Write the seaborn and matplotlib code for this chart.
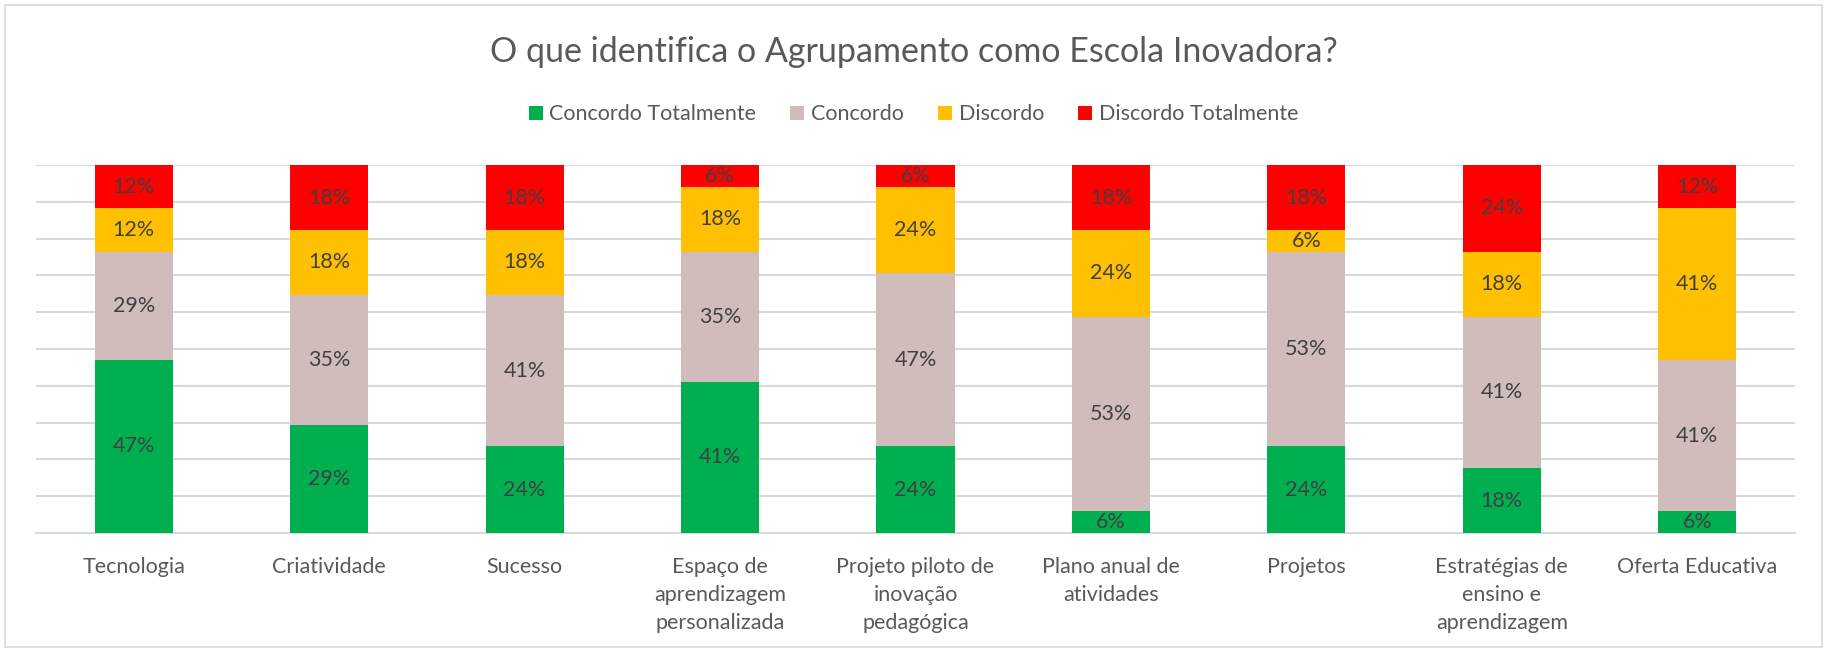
#!/usr/bin/env python
# -*- coding: utf-8 -*-
"""
Stacked 100% bar chart: O que identifica o Agrupamento como Escola Inovadora?
"""

import matplotlib
matplotlib.use("Agg")
import matplotlib.pyplot as plt
from matplotlib.patches import Rectangle, Patch
import seaborn as sns
import pandas as pd
import numpy as np

# Categories (x axis)
categories = [
    "Tecnologia",
    "Criatividade",
    "Sucesso",
    "Espaço de\naprendizagem\npersonalizada",
    "Projeto piloto de\ninovação\npedagógica",
    "Plano anual de\natividades",
    "Projetos",
    "Estratégias de\nensino e\naprendizagem",
    "Oferta Educativa",
]

# Answer counts (17 respondents)
concordo_totalmente = [8, 5, 4, 7, 4, 1, 4, 3, 1]
concordo = [5, 6, 7, 6, 8, 9, 9, 7, 7]
discordo = [2, 3, 3, 3, 4, 4, 1, 3, 7]
discordo_totalmente = [2, 3, 3, 1, 1, 3, 3, 4, 2]

series_names = ["Concordo Totalmente", "Concordo", "Discordo", "Discordo Totalmente"]
colors = ["#00B050", "#D1BCBC", "#FFC000", "#FF0000"]


def main():
    counts = np.array([concordo_totalmente, concordo, discordo, discordo_totalmente], dtype=float)
    pct = counts / counts.sum(axis=0) * 100
    cum = np.cumsum(pct, axis=0)

    sns.set_style("white")
    plt.rcParams["font.family"] = ["Lato", "DejaVu Sans"]

    fig = plt.figure(figsize=(18.27, 6.5), dpi=100)
    ax = fig.add_axes([0.0197, 0.180, 0.9628, 0.566])

    # stacked bars: draw cumulative totals from top segment down
    for i in range(len(series_names) - 1, -1, -1):
        df = pd.DataFrame({"Categoria": categories, "Valor": cum[i]})
        sns.barplot(data=df, x="Categoria", y="Valor", color=colors[i],
                    width=0.40, saturation=1, ax=ax, zorder=3, linewidth=0)

    # data labels
    for j in range(len(categories)):
        for i in range(len(series_names)):
            bottom = cum[i - 1, j] if i > 0 else 0
            mid = bottom + pct[i, j] / 2
            ax.text(j, mid, f"{pct[i, j]:.0f}%", ha="center", va="center",
                    fontsize=15.5, color="#404040", zorder=5)

    ax.set_ylim(0, 100)
    ax.set_xlim(-0.5, len(categories) - 0.5)
    ax.set_yticks(np.arange(0, 101, 10))
    ax.set_yticklabels([])
    ax.yaxis.grid(True, color="#D9D9D9", linewidth=1.5, zorder=0)
    ax.set_axisbelow(True)
    ax.tick_params(axis="y", length=0)
    ax.tick_params(axis="x", length=0, pad=17, labelsize=15.5, labelcolor="#595959")
    for lbl in ax.get_xticklabels():
        lbl.set_linespacing(1.5)
        lbl.set_va("top")
    ax.set_xlabel("")
    ax.set_ylabel("")
    for side in ["top", "right", "left"]:
        ax.spines[side].set_visible(False)
    ax.spines["bottom"].set_color("#D9D9D9")
    ax.spines["bottom"].set_linewidth(1.5)

    fig.suptitle("O que identifica o Agrupamento como Escola Inovadora?",
                 x=0.5, y=0.945, fontsize=24.5, color="#595959")

    handles = [Patch(facecolor=c, edgecolor="none") for c in colors]
    fig.legend(handles, series_names, loc="center", bbox_to_anchor=(0.5, 0.824),
               ncol=4, frameon=False, fontsize=15.5, labelcolor="#595959",
               handlelength=0.65, handleheight=0.65, handletextpad=0.3,
               columnspacing=1.6)

    # light chart border
    fig.patches.append(Rectangle((0.003, 0.004), 0.994, 0.988, transform=fig.transFigure,
                                 fill=False, edgecolor="#D9D9D9", linewidth=1.2))

    fig.savefig("out.png", dpi=100)
    plt.close(fig)


if __name__ == "__main__":
    main()
